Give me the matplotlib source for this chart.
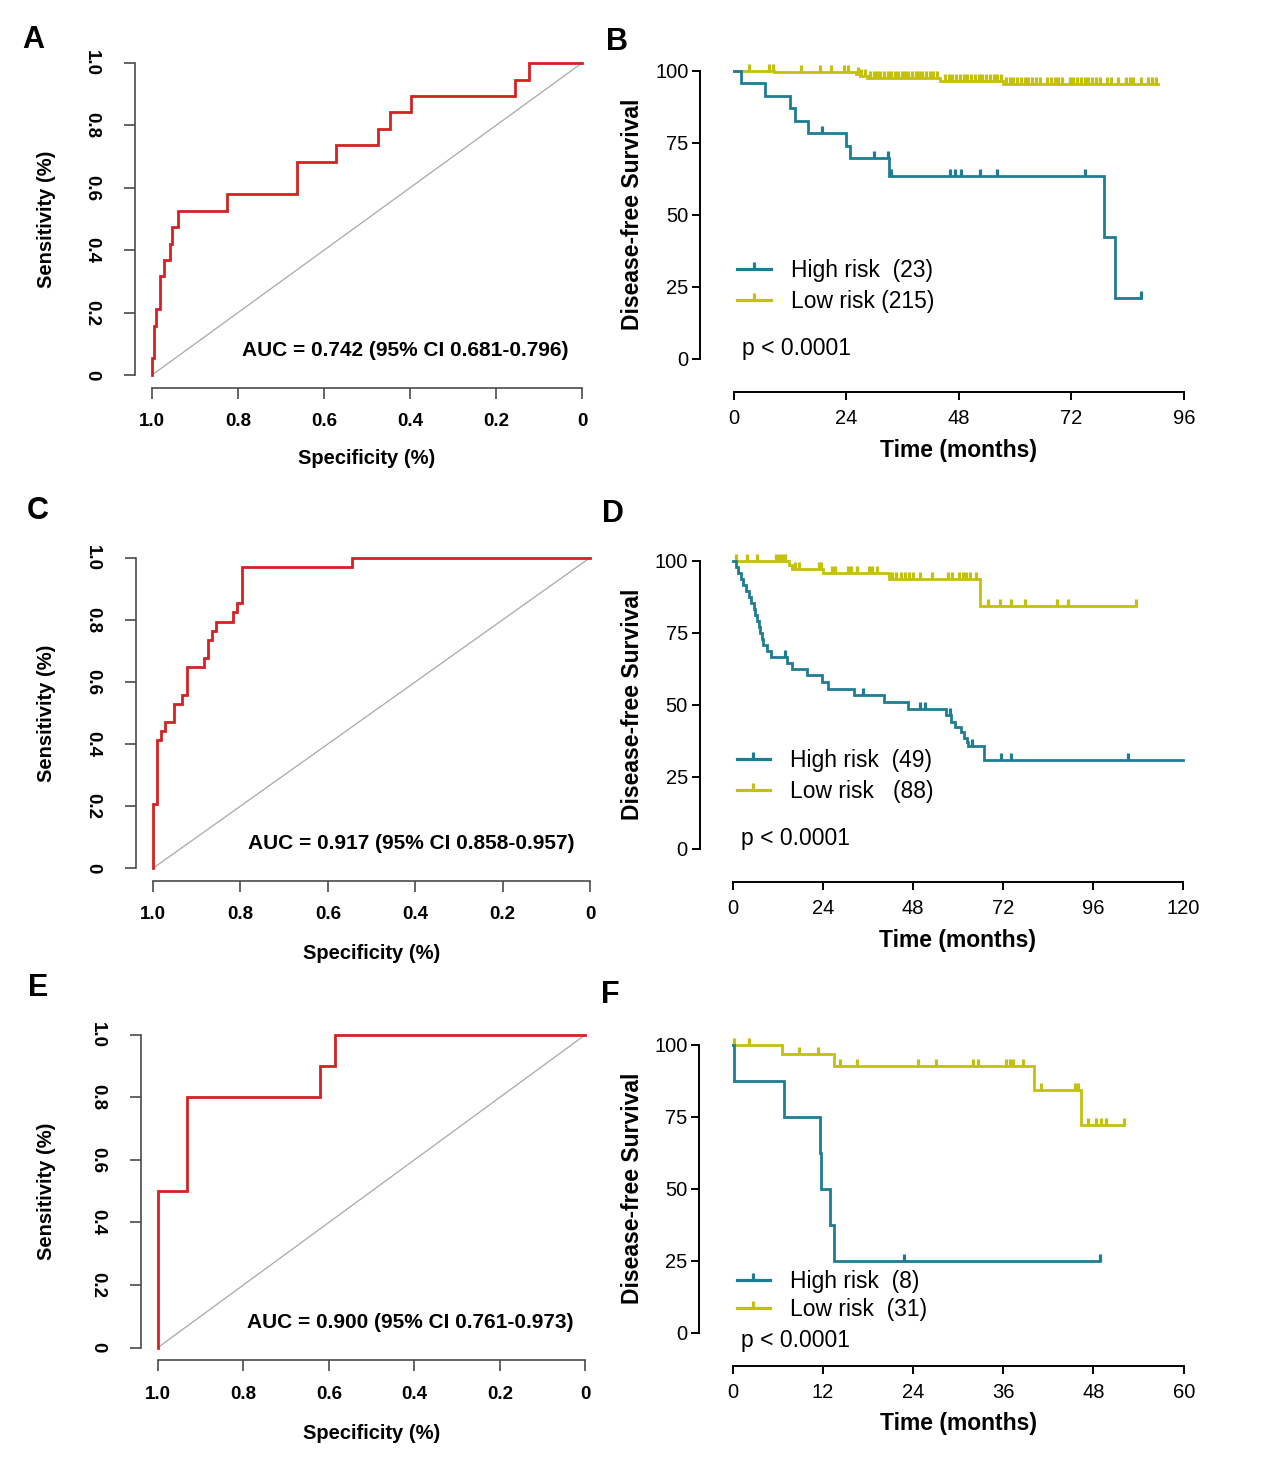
import numpy as np
import matplotlib
matplotlib.use('Agg')
import matplotlib.pyplot as plt
from matplotlib.path import Path
from matplotlib.lines import Line2D

plt.rcParams['font.family'] = ['Liberation Sans', 'DejaVu Sans']

W, H = 1269, 1481
DPI = 100

# ---------------- ROC data (specificity, sensitivity step points) ----------------
spec_A = [1.0, 0.995, 0.990, 0.981, 0.971, 0.958, 0.954, 0.940, 0.826, 0.663,
          0.572, 0.474, 0.447, 0.398, 0.156, 0.123, 0.0]
sens_A = [0.0, 0.053, 0.158, 0.211, 0.316, 0.368, 0.421, 0.474, 0.526, 0.579,
          0.684, 0.737, 0.789, 0.842, 0.895, 0.947, 1.0]
auc_A = "AUC = 0.742 (95% CI 0.681-0.796)"

spec_C = [1.0, 0.991, 0.982, 0.972, 0.952, 0.933, 0.923, 0.884, 0.875, 0.866,
          0.856, 0.816, 0.807, 0.796, 0.544, 0.0]
sens_C = [0.0, 0.206, 0.412, 0.441, 0.471, 0.529, 0.559, 0.647, 0.676, 0.735,
          0.765, 0.794, 0.824, 0.853, 0.971, 1.0]
auc_C = "AUC = 0.917 (95% CI 0.858-0.957)"

spec_E = [1.0, 0.931, 0.620, 0.585, 0.0]
sens_E = [0.0, 0.5, 0.8, 0.9, 1.0]
auc_E = "AUC = 0.900 (95% CI 0.761-0.973)"

diag_spec = [1.0, 0.0]
diag_sens = [0.0, 1.0]
roc_xticks = [1.0, 0.8, 0.6, 0.4, 0.2, 0.0]
roc_xticklabels = ['1.0', '0.8', '0.6', '0.4', '0.2', '0']
roc_yticks = [0.0, 0.2, 0.4, 0.6, 0.8, 1.0]
roc_yticklabels = ['0', '0.2', '0.4', '0.6', '0.8', '1.0']

# ---------------- Kaplan-Meier data ----------------
# B
B_high_t = [0, 1.6, 6.6, 12.0, 13.1, 15.8, 23.9, 24.7, 33.0, 78.9, 81.2]
B_high_s = [100, 95.7, 91.3, 87.0, 82.6, 78.3, 73.9, 69.6, 63.3, 42.2, 21.1]
B_high_end = 86.8
B_high_cens = [18.8, 29.9, 32.8, 33.6, 46.0, 47.2, 48.5, 52.6, 56.2, 74.8, 86.8]

B_low_t = [0, 8.5, 26.0, 27.0, 28.5, 44.0, 57.5]
B_low_s = [100, 99.4, 98.9, 98.3, 97.6, 96.5, 95.4]
B_low_end = 90.5
B_low_cens = [3.3, 7.6, 8.3, 14.4, 18.3, 20.8, 23.6, 24.4, 26.5, 27.2, 28.0,
              29.0, 29.8, 30.5, 31.2, 32.0, 32.8, 33.5, 34.3, 35.0, 35.8, 36.5,
              37.2, 38.0, 38.8, 39.5, 40.2, 41.0, 41.8, 42.5, 43.3,
              45.0, 45.8, 46.6, 47.4, 48.2, 49.0, 49.8, 50.6, 51.4, 52.2, 53.0,
              53.8, 54.6, 55.4, 56.2, 57.0,
              58.0, 58.8, 59.6, 60.4, 61.2, 62.0, 62.8, 63.6, 64.4, 65.2, 66.8,
              67.6, 68.4, 69.2, 70.0, 71.6, 72.4, 73.2, 74.0, 74.8, 75.6, 76.4,
              77.2, 78.0, 79.6, 80.4, 82.0, 83.6, 84.4, 85.2, 86.8, 88.4, 89.2, 90.0]

# D
D_high_t = [0, 0.7, 1.4, 2.1, 2.8, 3.5, 4.3, 4.9, 5.6, 6.0, 6.5, 6.9, 7.3, 7.7,
            8.1, 9.0, 10.2, 14.5, 15.8, 19.7, 23.8, 25.3, 32.3, 40.3, 46.7,
            56.7, 58.1, 59.3, 60.8, 61.6, 62.3, 62.8, 67.0]
D_high_s = [100, 97.9, 95.8, 93.8, 91.7, 89.6, 87.5, 85.4, 83.3, 81.3, 79.2,
            77.1, 75.0, 72.9, 70.8, 68.8, 66.7, 64.6, 62.5, 60.3, 58.0, 55.6,
            53.2, 50.9, 48.6, 46.4, 44.0, 42.2, 40.4, 38.3, 37.0, 35.6, 30.8]
D_high_end = 120.0
D_high_cens = [14.0, 34.6, 49.8, 51.3, 58.0, 63.7, 71.6, 74.2, 105.3]

D_low_t = [0, 14.9, 15.8, 24.0, 41.5, 65.8]
D_low_s = [100, 98.5, 97.1, 95.6, 93.5, 84.3]
D_low_end = 107.4
D_low_cens = [0.7, 3.8, 6.4, 11.5, 12.4, 13.2, 14.0, 16.6, 17.7, 22.9, 23.5,
              26.3, 27.3, 30.7, 31.5, 33.0, 36.4, 37.2, 38.4, 42.4, 43.6, 44.7,
              45.8, 47.0, 48.1, 49.8, 53.0, 57.3, 58.4, 60.2, 61.3, 62.1, 63.2,
              64.7, 68.1, 71.2, 74.2, 77.9, 86.5, 89.3, 107.4]

# F
F_high_t = [0, 0.2, 6.9, 11.6, 11.8, 13.0, 13.5]
F_high_s = [100, 87.5, 75.0, 62.5, 50.0, 37.5, 25.0]
F_high_end = 48.9
F_high_cens = [22.8, 48.9]

F_low_t = [0, 6.6, 13.5, 40.1, 46.4]
F_low_s = [100, 96.6, 92.6, 84.3, 72.1]
F_low_end = 52.1
F_low_cens = [0.2, 2.2, 8.8, 11.4, 14.3, 16.5, 24.7, 27.0, 32.0, 32.6, 36.3,
              36.9, 37.3, 38.6, 41.0, 45.6, 46.0, 47.3, 48.3, 49.0, 49.6, 52.1]

km_yticks = [0, 25, 50, 75, 100]
km_yticklabels = ['0', '25', '50', '75', '100']
B_xticks = [0, 24, 48, 72, 96]
D_xticks = [0, 24, 48, 72, 96, 120]
F_xticks = [0, 12, 24, 36, 48, 60]

RED = '#d42222'
TEAL = '#1f7d93'
YELLOW = '#c3c10c'
GREY = '#a8a8a8'
SPINE = '#4a4a4a'

TICK = Path([(0, 0), (0, 1)], [Path.MOVETO, Path.LINETO])

fig = plt.figure(figsize=(W / DPI, H / DPI), dpi=DPI)


def add_ax(l, t, r, b):
    return fig.add_axes([l / W, 1 - b / H, (r - l) / W, (b - t) / H])


def letter(ch, x, y):
    fig.text(x / W, 1 - y / H, ch, ha='center', va='center',
             fontsize=22, fontweight='bold')


def roc_panel(box, spec, sens, auc, ylab_x, xlab_y):
    l, t, r, b = box
    ax = add_ax(l, t, r, b)
    ax.plot(diag_spec, diag_sens, color=GREY, lw=0.9, zorder=2)
    ax.plot(spec, sens, drawstyle='steps-pre', color=RED, lw=2.0, zorder=3,
            solid_joinstyle='miter')
    ax.set_xlim(1.04, -0.04)
    ax.set_ylim(-0.04, 1.04)
    for s in ['top', 'right']:
        ax.spines[s].set_visible(False)
    for s in ['left', 'bottom']:
        ax.spines[s].set_bounds(0, 1)
        ax.spines[s].set_color(SPINE)
        ax.spines[s].set_linewidth(1.2)
    ax.set_xticks(roc_xticks)
    ax.set_xticklabels(roc_xticklabels, fontsize=13.5, fontweight='bold')
    ax.set_yticks(roc_yticks)
    ax.set_yticklabels(roc_yticklabels, fontsize=13.5, fontweight='bold',
                       rotation=270, va='center')
    ax.tick_params(axis='both', length=8, width=1.2, color=SPINE)
    ax.tick_params(axis='x', pad=10.5)
    ax.tick_params(axis='y', pad=17)
    ax.set_xlabel('Specificity (%)', fontsize=14.5, fontweight='bold', va='center')
    ax.set_ylabel('Sensitivity (%)', fontsize=14.5, fontweight='bold', va='center')
    ax.xaxis.set_label_coords(0.5, xlab_y)
    ax.yaxis.set_label_coords(ylab_x, 0.5)
    ax.text(0.41, 0.08, auc, ha='center', va='center', fontsize=15,
            fontweight='bold')
    ax.patch.set_alpha(0)
    return ax


def km_panel(box, xmax, xticks, curves, labels, leg_xy, leg_space, p_xy,
             ylab_x, xlab_y):
    l, t, r, b = box
    ax = add_ax(l, t, r, b)
    handles = []
    for (tt, ss, end, cens, col) in curves:
        x = list(tt) + [end]
        y = list(ss) + [ss[-1]]
        ax.plot(x, y, drawstyle='steps-post', color=col, lw=2.0, clip_on=False,
                solid_joinstyle='miter')
        idx = np.searchsorted(np.asarray(tt, float), np.asarray(cens, float),
                              side='right') - 1
        cy = np.asarray(ss, float)[idx]
        ax.plot(cens, cy, ls='none', marker=TICK, ms=10, mew=2.3, color=col,
                clip_on=False)
        handles.append(Line2D([0], [0], color=col, lw=2.3, marker=TICK, ms=10,
                              mew=2.3))
    ax.set_xlim(0, xmax)
    ax.set_ylim(0, 100)
    for s in ['top', 'right']:
        ax.spines[s].set_visible(False)
    ax.spines['left'].set_position(('outward', 24))
    ax.spines['bottom'].set_position(('outward', 24))
    ax.spines['left'].set_bounds(0, 100)
    ax.spines['bottom'].set_bounds(0, xmax)
    for s in ['left', 'bottom']:
        ax.spines[s].set_linewidth(1.4)
    ax.set_xticks(xticks)
    ax.set_xticklabels([str(v) for v in xticks], fontsize=14.5)
    ax.set_yticks(km_yticks)
    ax.set_yticklabels(km_yticklabels, fontsize=14.5)
    ax.tick_params(axis='both', length=6, width=1.4)
    ax.tick_params(axis='x', pad=6)
    ax.tick_params(axis='y', pad=2.5)
    ax.set_xlabel('Time (months)', fontsize=16.5, fontweight='bold', va='center')
    ax.set_ylabel('Disease-free Survival', fontsize=16.5, fontweight='bold',
                  va='center')
    ax.xaxis.set_label_coords(0.5, xlab_y)
    ax.yaxis.set_label_coords(ylab_x, 0.5)
    # legend (high risk first)
    order = [1, 0]
    ax.legend([handles[i] for i in order], labels, loc='center left',
              bbox_to_anchor=(leg_xy[0] / W, 1 - leg_xy[1] / H),
              bbox_transform=fig.transFigure, frameon=False, borderpad=0,
              borderaxespad=0, handlelength=1.48, handletextpad=0.87,
              labelspacing=leg_space, fontsize=16.5, numpoints=1)
    ax.text((p_xy[0] - l) / (r - l), (b - p_xy[1]) / (b - t), 'p < 0.0001',
            transform=ax.transAxes, ha='left', va='center', fontsize=16.5)
    ax.patch.set_alpha(0)
    return ax


# ---------------- Row 1 ----------------
roc_panel((134.8, 50.5, 599.2, 387.5), spec_A, sens_A, auc_A, -0.19, -0.212)
km_panel((733.8, 70.7, 1184.0, 358.7), 96, B_xticks,
         [(B_low_t, B_low_s, B_low_end, B_low_cens, YELLOW),
          (B_high_t, B_high_s, B_high_end, B_high_cens, TEAL)],
         ['High risk  (23)', 'Low risk (215)'], (737, 286), 0.36, (741.6, 348),
         -0.2248, -0.3194)
letter('A', 33, 40)
letter('B', 617, 42)

# ---------------- Row 2 ----------------
roc_panel((135.5, 545.3, 607.5, 880.7), spec_C, sens_C, auc_C, -0.188, -0.218)
km_panel((733.0, 560.7, 1182.8, 848.7), 120, D_xticks,
         [(D_low_t, D_low_s, D_low_end, D_low_cens, YELLOW),
          (D_high_t, D_high_s, D_high_end, D_high_cens, TEAL)],
         ['High risk  (49)', 'Low risk   (88)'], (736.5, 775.8), 0.36,
         (740.8, 838), -0.2245, -0.3194)
letter('C', 37.5, 511)
letter('D', 613, 514)

# ---------------- Row 3 ----------------
roc_panel((140.6, 1022.2, 602.5, 1360.2), spec_E, sens_E, auc_E, -0.2035, -0.217)
km_panel((732.6, 1044.7, 1183.7, 1332.7), 60, F_xticks,
         [(F_low_t, F_low_s, F_low_end, F_low_cens, YELLOW),
          (F_high_t, F_high_s, F_high_end, F_high_cens, TEAL)],
         ['High risk  (8)', 'Low risk  (31)'], (736.5, 1295.8), 0.22,
         (740.8, 1340), -0.2217, -0.317)
letter('E', 38, 988)
letter('F', 610, 995)

fig.savefig('out.png', dpi=DPI, facecolor='white')
